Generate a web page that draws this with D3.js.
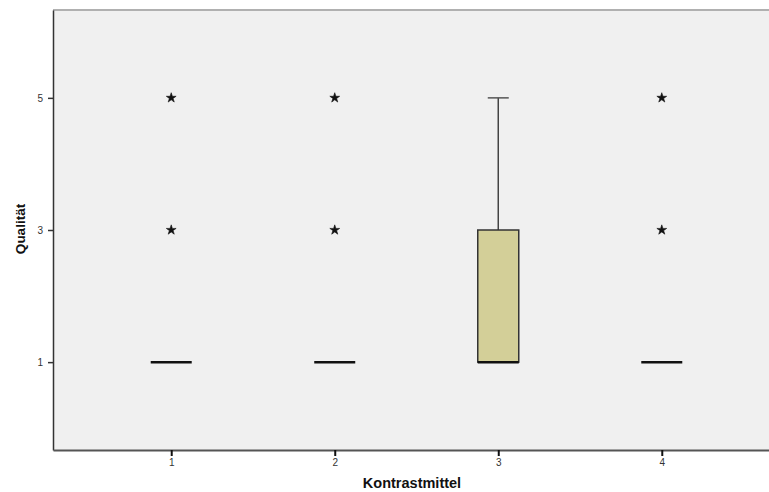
<!DOCTYPE html>
<html>
<head>
<meta charset="utf-8">
<script src="https://cdn.jsdelivr.net/npm/d3@7/dist/d3.min.js"></script>
<style>
  html, body { margin: 0; padding: 0; background: #ffffff; }
  svg { display: block; }
</style>
</head>
<body>
<script>
// Boxplot of image quality ratings per contrast agent
const categories = ["1", "2", "3", "4"];
const q1Values      = [1, 1, 1, 1];
const medianValues  = [1, 1, 1, 1];
const q3Values      = [1, 1, 3, 1];
const whiskerLow    = [1, 1, 1, 1];
const whiskerHigh   = [1, 1, 5, 1];
// extreme values (drawn as asterisks)
const extremeValues = [[3, 5], [3, 5], [], [3, 5]];
const yTickValues   = [1, 3, 5];

const W = 769, H = 492;
const plot = { left: 53, top: 10, right: 780, bottom: 450 };

const svg = d3.select("body").append("svg")
  .attr("width", W).attr("height", H);

const x = d3.scalePoint()
  .domain(categories)
  .range([plot.left, plot.right])
  .padding(0.723);

const y = d3.scaleLinear()
  .domain([-0.33, 6.33])
  .range([plot.bottom, plot.top]);

// plot background
svg.append("rect")
  .attr("x", plot.left).attr("y", plot.top)
  .attr("width", plot.right - plot.left)
  .attr("height", plot.bottom - plot.top)
  .attr("fill", "#f0f0f0");

// top frame line
svg.append("line")
  .attr("x1", plot.left).attr("x2", plot.right)
  .attr("y1", plot.top).attr("y2", plot.top)
  .attr("stroke", "#b0b0b0").attr("stroke-width", 2);

const boxW = 41;
const capW = 21;

const groups = svg.append("g").selectAll("g")
  .data(categories.map((c, i) => ({
    c, q1: q1Values[i], med: medianValues[i], q3: q3Values[i],
    lo: whiskerLow[i], hi: whiskerHigh[i], ext: extremeValues[i]
  })))
  .join("g");

// whiskers
groups.filter(d => d.hi > d.q3).append("line")
  .attr("x1", d => x(d.c)).attr("x2", d => x(d.c))
  .attr("y1", d => y(d.q3)).attr("y2", d => y(d.hi))
  .attr("stroke", "#444").attr("stroke-width", 1.5);
groups.filter(d => d.hi > d.q3).append("line")
  .attr("x1", d => x(d.c) - capW / 2).attr("x2", d => x(d.c) + capW / 2)
  .attr("y1", d => y(d.hi)).attr("y2", d => y(d.hi))
  .attr("stroke", "#555").attr("stroke-width", 1.5);
groups.filter(d => d.lo < d.q1).append("line")
  .attr("x1", d => x(d.c)).attr("x2", d => x(d.c))
  .attr("y1", d => y(d.q1)).attr("y2", d => y(d.lo))
  .attr("stroke", "#444").attr("stroke-width", 1.5);

// boxes
groups.filter(d => d.q3 > d.q1).append("rect")
  .attr("x", d => x(d.c) - boxW / 2)
  .attr("width", boxW)
  .attr("y", d => y(d.q3))
  .attr("height", d => y(d.q1) - y(d.q3))
  .attr("fill", "#d3cf98")
  .attr("stroke", "#333").attr("stroke-width", 1.5);

// medians
groups.append("line")
  .attr("x1", d => x(d.c) - boxW / 2).attr("x2", d => x(d.c) + boxW / 2)
  .attr("y1", d => y(d.med)).attr("y2", d => y(d.med))
  .attr("stroke", "#111").attr("stroke-width", 2.5);

// extremes
const star = d3.symbol().type(d3.symbolStar).size(30);
groups.selectAll("path.ext")
  .data(d => d.ext.map(v => ({ c: d.c, v })))
  .join("path")
  .attr("class", "ext")
  .attr("d", star)
  .attr("transform", d => `translate(${x(d.c)},${y(d.v)})`)
  .attr("fill", "#111")
  .attr("stroke", "#111").attr("stroke-width", 0.6);

// axes
const yAxis = svg.append("g")
  .attr("transform", `translate(${plot.left},0)`)
  .call(d3.axisLeft(y).tickValues(yTickValues).tickSize(5).tickSizeOuter(0).tickFormat(d3.format("d")));
yAxis.select(".domain").attr("stroke", "#333").attr("stroke-width", 1.5);
yAxis.selectAll(".tick line").attr("stroke", "#333").attr("stroke-width", 1.5);
yAxis.selectAll(".tick text")
  .attr("x", -10)
  .attr("font-family", "Liberation Sans, Arial, sans-serif")
  .attr("font-size", 10).attr("fill", "#333");

const xAxis = svg.append("g")
  .attr("transform", `translate(0,${plot.bottom})`)
  .call(d3.axisBottom(x).tickSize(6).tickSizeOuter(0));
xAxis.select(".domain").attr("stroke", "#555").attr("stroke-width", 2);
xAxis.selectAll(".tick line").attr("stroke", "#111").attr("stroke-width", 2);
xAxis.selectAll(".tick text")
  .attr("y", 9)
  .attr("font-family", "Liberation Sans, Arial, sans-serif")
  .attr("font-size", 10).attr("fill", "#333");

// axis titles
svg.append("text")
  .attr("x", 412).attr("y", 488)
  .attr("text-anchor", "middle")
  .attr("font-family", "Liberation Sans, Arial, sans-serif")
  .attr("font-weight", "bold").attr("font-size", 14.5)
  .attr("fill", "#111")
  .text("Kontrastmittel");

svg.append("text")
  .attr("transform", "translate(25,229) rotate(-90)")
  .attr("text-anchor", "middle")
  .attr("font-family", "Liberation Sans, Arial, sans-serif")
  .attr("font-weight", "bold").attr("font-size", 13.5)
  .attr("fill", "#111")
  .text("Qualität");
</script>
</body>
</html>
